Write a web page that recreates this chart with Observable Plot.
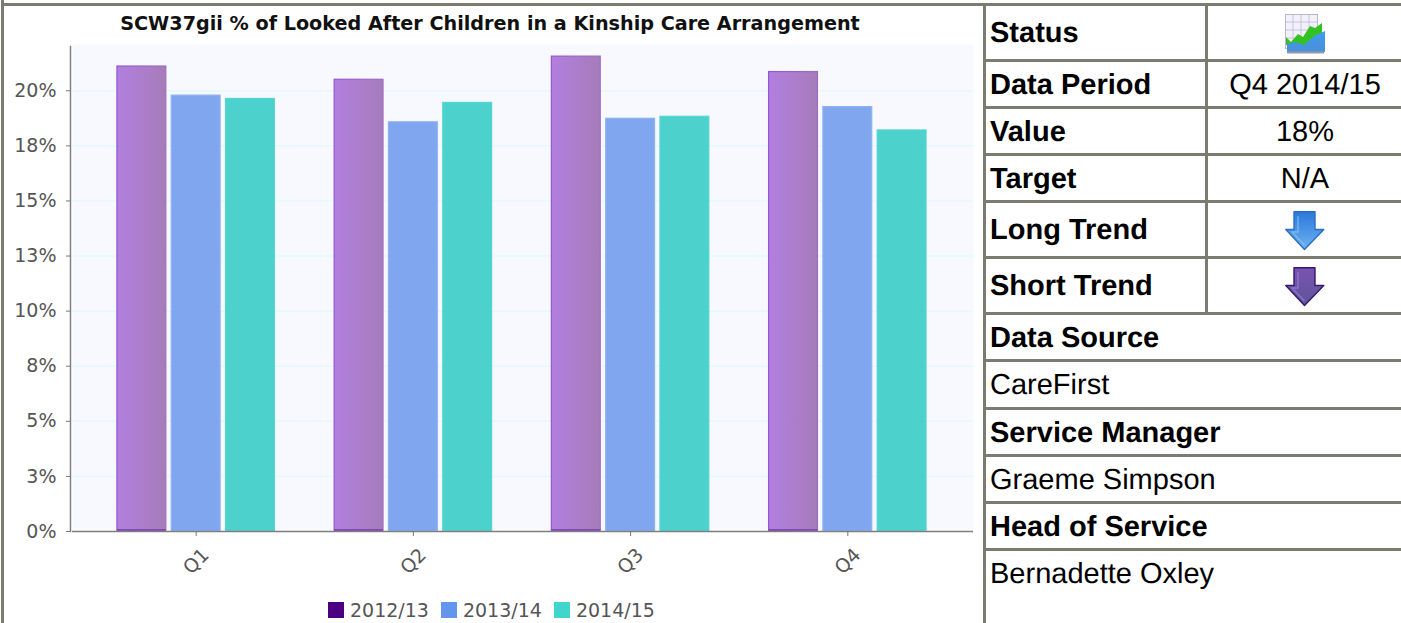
<!DOCTYPE html>
<html>
<head>
<meta charset="utf-8">
<script src="https://cdn.jsdelivr.net/npm/d3@7"></script>
<script src="https://cdn.jsdelivr.net/npm/@observablehq/plot@0.6"></script>
<style>
  html, body { margin: 0; padding: 0; background: #fff; overflow: hidden; }
  #page { position: relative; width: 1401px; height: 623px; overflow: hidden; }
  #topline { position: absolute; left: 2px; right: 0; top: 3px; height: 3px; background: #7b7b6f; }
  #leftline { position: absolute; left: 1px; top: 0; bottom: 0; width: 3px; background: #7b7b6f; }
  #panelline { position: absolute; left: 983px; top: 3px; bottom: 0; width: 3px; background: #7b7b6f; }
  #chart { position: absolute; left: 0; top: 0; }
  #title { position: absolute; left: 0; width: 980px; top: 12px; text-align: center;
           font: bold 19.2px "DejaVu Sans"; color: #111; white-space: nowrap; }
  #legend { position: absolute; left: 328px; top: 598px; display: flex;
            font: 19px "DejaVu Sans"; color: #555; line-height: 24px; white-space: nowrap; }
  #legend span.item { display: flex; align-items: center; margin-right: 12px; }
  #legend i { display: block; width: 16px; height: 16px; margin-right: 6px; }
  table { position: absolute; left: 983px; top: 3px; width: 440px; table-layout: fixed; text-rendering: geometricPrecision;
          border-collapse: separate; border-spacing: 0; font: 29px "Liberation Sans", Arial, sans-serif; color: #000; }
  td { border-top: 3px solid #7b7b6f; padding: 2px 0 0 4px; box-sizing: border-box; white-space: nowrap; }
  td:first-child { border-left: 3px solid #7b7b6f; }
  td.label { font-weight: bold; }
  td.val { text-align: center; border-left: 3px solid #7b7b6f; padding: 2px 21px 0 0; }
  td svg { display: block; margin: 0 auto; }
</style>
</head>
<body>
<div id="page">
  <div id="chart"></div>
  <div id="topline"></div>
  <div id="leftline"></div>
  <div id="panelline"></div>
  <div id="title"></div>
  <div id="legend"></div>
  <div id="panel"></div>
</div>
<script>
const chartTitle = "SCW37gii % of Looked After Children in a Kinship Care Arrangement";
const quarters = ["Q1", "Q2", "Q3", "Q4"];
const seasons = ["2012/13", "2013/14", "2014/15"];
const values2012 = [21.1, 20.5, 21.55, 20.85];
const values2013 = [19.78, 18.57, 18.73, 19.26];
const values2014 = [19.63, 19.45, 18.82, 18.2];
const yTicks = [0, 2.5, 5, 7.5, 10, 12.5, 15, 17.5, 20];

const swatchColors = ["#4b0082", "#6495ed", "#40d5cd"];
const barFills = ["url(#fill2012)", "#7ba3ee", "#46d0cb"];
const barStrokes = ["url(#edge2012)", "#8fb2f1", "#55d6d2"];

const rows = quarters.flatMap((quarter, i) => [
  {quarter, season: seasons[0], value: values2012[i]},
  {quarter, season: seasons[1], value: values2013[i]},
  {quarter, season: seasons[2], value: values2014[i]}
]);

// One band per bar, with an empty band between quarters to leave the group gap
const slot = d => `${d.quarter} ${d.season}`;
const slots = quarters.flatMap((quarter, i) => [
  ...seasons.map(season => slot({quarter, season})),
  ...(i < quarters.length - 1 ? [`gap ${quarter}`] : [])
]);
const quarterTicks = quarters.map(quarter => slot({quarter, season: seasons[1]}));

// Side panel rows: label, value, row height
const statusRows = [
  ["Status", "icon:status", 56],
  ["Data Period", "Q4 2014/15", 47],
  ["Value", "18%", 47],
  ["Target", "N/A", 47],
  ["Long Trend", "icon:long", 56],
  ["Short Trend", "icon:short", 56]
];
const detailRows = [
  ["Data Source", true, 47],
  ["CareFirst", false, 48],
  ["Service Manager", true, 47],
  ["Graeme Simpson", false, 47],
  ["Head of Service", true, 47],
  ["Bernadette Oxley", false, 47]
];

// Gradients used by the first series' bars
function defs() {
  const d = d3.create("svg:defs");
  const grad = (id, a, b) => {
    const g = d.append("linearGradient").attr("id", id);
    g.append("stop").attr("offset", "0%").attr("stop-color", a);
    g.append("stop").attr("offset", "100%").attr("stop-color", b);
  };
  grad("fill2012", "#b07bde", "#a378b8");
  grad("edge2012", "#9257d2", "#9c6cc0");
  return d.node();
}

const plot = Plot.plot({
  width: 985,
  height: 623,
  marginLeft: 72,
  marginRight: 12,
  marginTop: 44,
  marginBottom: 92,
  style: {fontFamily: "DejaVu Sans", fontSize: "19px", color: "#555", background: "transparent"},
  x: {domain: slots, paddingInner: 0.1, paddingOuter: 0.846, align: 0.489, round: false, label: null},
  y: {domain: [0, 22.1], label: null},
  color: {domain: seasons, range: barFills},
  marks: [
    defs,
    Plot.frame({fill: "#f8f9ff", stroke: "none"}),
    Plot.gridY(yTicks.slice(1), {stroke: "#e2fafd", strokeOpacity: 1, strokeWidth: 1.5}),
    Plot.barY(rows, {
      x: slot, y: "value", fill: "season", fillOpacity: 0.97,
      stroke: {value: d => barStrokes[seasons.indexOf(d.season)], scale: null},
      strokeWidth: 1.2
    }),
    // darker foot on the first series' bars
    Plot.tickY(rows.filter(d => d.season === seasons[0]), {
      x: slot, y: 0, stroke: "#8148b8", strokeWidth: 2, dy: -1.5
    }),
    Plot.ruleY([0], {stroke: "#7f7f7f", strokeWidth: 1.5}),
    Plot.axisY({
      ticks: yTicks, tickFormat: d => Math.round(d) + "%", label: null,
      tickSize: 4, tickPadding: 10, stroke: "#777", dx: -2
    }),
    Plot.frame({anchor: "left", stroke: "#808080", strokeWidth: 1.5, dx: -2, insetTop: 2}),
    Plot.axisX({
      ticks: quarterTicks, tickFormat: d => d.slice(0, 2),
      anchor: "bottom", label: null, tickRotate: -45, tickSize: 5, tickPadding: 25,
      textAnchor: "middle", lineAnchor: "middle", fontSize: 19, stroke: "#777"
    })
  ]
});
document.getElementById("chart").append(plot);
document.getElementById("title").textContent = chartTitle;

// Legend under the plot
const legend = d3.select("#legend");
seasons.forEach((s, i) => {
  const item = legend.append("span").attr("class", "item");
  item.append("i").style("background", swatchColors[i]);
  item.append("span").text(s);
});

// Small picture icons for the panel
function statusIcon() {
  return `<svg width="42" height="42" viewBox="0 0 42 42">
    <defs><linearGradient id="sky" x1="0" y1="0" x2="0" y2="1">
      <stop offset="0" stop-color="#3f9cf0"/><stop offset="1" stop-color="#4a8fd8"/></linearGradient></defs>
    <rect x="1.5" y="1.5" width="32" height="34" fill="#f2f1fb" stroke="#b9b6d2"/>
    <path d="M9 2V34M17 2V34M25 2V34M2 9H33M2 17H33M2 25H33" stroke="#c6c3da" fill="none"/>
    <path d="M2 24L7 29L14 21L19 24L26 13L31 15L38 10V32H2Z" fill="#33c222"/>
    <path d="M3 31L12 29L20 32L30 23L41 18V39H3Z" fill="url(#sky)"/>
    <path d="M3 39.5H40" stroke="#9a9aa6" stroke-width="2"/></svg>`;
}
function arrowIcon(id, a, b, edge, inner) {
  return `<svg width="40" height="40" viewBox="0 0 40 40">
    <defs><linearGradient id="${id}" x1="0" y1="0" x2="0" y2="1">
      <stop offset="0" stop-color="${a}"/><stop offset="1" stop-color="${b}"/></linearGradient></defs>
    <path d="M9 0.8H30V18.5H38.8L19.5 38.6L0.8 18.5H9Z" fill="url(#${id})" stroke="${edge}" stroke-width="1.4" stroke-linejoin="round"/>
    <path d="M13 5V21H7L19.5 34" fill="none" stroke="${inner}" stroke-width="1.4" stroke-opacity=".7"/></svg>`;
}
const icons = {
  "icon:status": statusIcon(),
  "icon:long": arrowIcon("arrowLong", "#2a78dc", "#6fb2f0", "#2a6fc0", "#8cc4f6"),
  "icon:short": arrowIcon("arrowShort", "#7a52b4", "#5c5698", "#37186a", "#a080d8")
};

let html = "<table><colgroup><col style='width:222px'><col></colgroup>";
for (const [label, value, h] of statusRows) {
  html += `<tr style="height:${h}px"><td class="label">${label}</td><td class="val">${icons[value] || value}</td></tr>`;
}
for (const [text, bold, h] of detailRows) {
  html += `<tr style="height:${h}px"><td colspan="2" style="font-weight:${bold ? "bold" : "normal"}">${text}</td></tr>`;
}
html += "</table>";
document.getElementById("panel").innerHTML = html;
</script>
</body>
</html>
